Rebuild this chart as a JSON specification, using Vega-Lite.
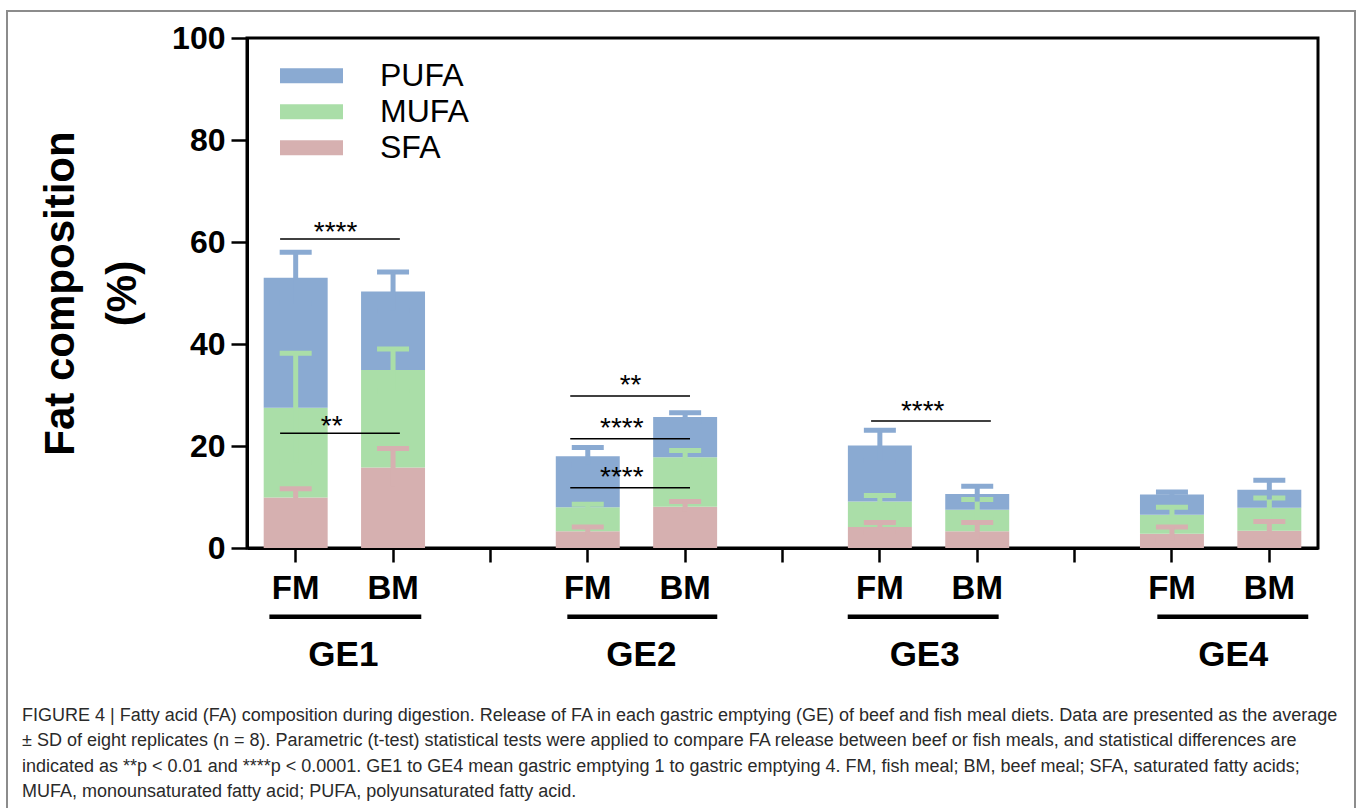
{
  "$schema": "https://vega.github.io/schema/vega-lite/v6.json",
  "autosize": "none",
  "width": 1071,
  "height": 510,
  "padding": {"left": 247, "top": 38, "right": 39, "bottom": 260},
  "background": "white",
  "datasets": {
    "fa": [
      {"slot": "GE1 FM", "type": "SFA", "order": 1, "pct": 9.9, "sd": 1.7},
      {"slot": "GE1 FM", "type": "MUFA", "order": 2, "pct": 17.6, "sd": 10.7},
      {"slot": "GE1 FM", "type": "PUFA", "order": 3, "pct": 25.5, "sd": 5.0},
      {"slot": "GE1 BM", "type": "SFA", "order": 1, "pct": 15.8, "sd": 3.7},
      {"slot": "GE1 BM", "type": "MUFA", "order": 2, "pct": 19.1, "sd": 4.1},
      {"slot": "GE1 BM", "type": "PUFA", "order": 3, "pct": 15.4, "sd": 3.8},
      {"slot": "GE2 FM", "type": "SFA", "order": 1, "pct": 3.3, "sd": 0.8},
      {"slot": "GE2 FM", "type": "MUFA", "order": 2, "pct": 4.7, "sd": 0.6},
      {"slot": "GE2 FM", "type": "PUFA", "order": 3, "pct": 10.0, "sd": 1.7},
      {"slot": "GE2 BM", "type": "SFA", "order": 1, "pct": 8.1, "sd": 1.0},
      {"slot": "GE2 BM", "type": "MUFA", "order": 2, "pct": 9.7, "sd": 1.3},
      {"slot": "GE2 BM", "type": "PUFA", "order": 3, "pct": 7.9, "sd": 0.8},
      {"slot": "GE3 FM", "type": "SFA", "order": 1, "pct": 4.1, "sd": 0.9},
      {"slot": "GE3 FM", "type": "MUFA", "order": 2, "pct": 5.0, "sd": 1.2},
      {"slot": "GE3 FM", "type": "PUFA", "order": 3, "pct": 11.0, "sd": 3.0},
      {"slot": "GE3 BM", "type": "SFA", "order": 1, "pct": 3.3, "sd": 1.7},
      {"slot": "GE3 BM", "type": "MUFA", "order": 2, "pct": 4.2, "sd": 2.0},
      {"slot": "GE3 BM", "type": "PUFA", "order": 3, "pct": 3.1, "sd": 1.5},
      {"slot": "GE4 FM", "type": "SFA", "order": 1, "pct": 2.8, "sd": 1.3},
      {"slot": "GE4 FM", "type": "MUFA", "order": 2, "pct": 3.7, "sd": 1.5},
      {"slot": "GE4 FM", "type": "PUFA", "order": 3, "pct": 4.0, "sd": 0.5},
      {"slot": "GE4 BM", "type": "SFA", "order": 1, "pct": 3.4, "sd": 1.8},
      {"slot": "GE4 BM", "type": "MUFA", "order": 2, "pct": 4.5, "sd": 1.9},
      {"slot": "GE4 BM", "type": "PUFA", "order": 3, "pct": 3.5, "sd": 1.9}
    ],
    "sig": [
      {"label": "****", "y": 60.6, "x1": 0.34, "x2": 1.57, "sx": 0.91, "sy": 60.2},
      {"label": "**", "y": 22.5, "x1": 0.34, "x2": 1.57, "sx": 0.87, "sy": 22.2},
      {"label": "**", "y": 29.8, "x1": 3.32, "x2": 4.55, "sx": 3.94, "sy": 30.1},
      {"label": "****", "y": 21.4, "x1": 3.32, "x2": 4.55, "sx": 3.85, "sy": 21.7},
      {"label": "****", "y": 11.8, "x1": 3.32, "x2": 4.55, "sx": 3.85, "sy": 12.1},
      {"label": "****", "y": 24.9, "x1": 6.41, "x2": 7.64, "sx": 6.94, "sy": 25.1}
    ],
    "groups": [
      {"ge": "GE1", "x1": 0.23, "x2": 1.79, "cx": 0.99},
      {"ge": "GE2", "x1": 3.29, "x2": 4.83, "cx": 4.05},
      {"ge": "GE3", "x1": 6.17, "x2": 7.72, "cx": 6.96},
      {"ge": "GE4", "x1": 9.35, "x2": 10.9, "cx": 10.13}
    ]
  },
  "config": {
    "font": "Liberation Sans",
    "view": {"stroke": "#000", "strokeWidth": 3},
    "axis": {
      "domainColor": "#000", "domainWidth": 3, "tickColor": "#000", "tickWidth": 2.5,
      "labelColor": "#000", "titleColor": "#000", "grid": false,
      "labelFont": "Liberation Sans", "titleFont": "Liberation Sans"
    }
  },
  "layer": [
    {
      "data": {"name": "fa"},
      "mark": {"type": "bar", "opacity": 1},
      "encoding": {
        "x": {
          "field": "slot", "type": "nominal", "sort": null,
          "scale": {
            "domain": ["GE1 FM", "GE1 BM", " 1", "GE2 FM", "GE2 BM", " 2", "GE3 FM", "GE3 BM", " 3", "GE4 FM", "GE4 BM"],
            "paddingInner": 0.343, "paddingOuter": 0.1715
          },
          "axis": {
            "title": null, "labelExpr": "slice(datum.value, 4)", "labelAngle": 0,
            "labelFontSize": 33, "labelFontWeight": "bold", "tickSize": 14, "labelPadding": 10
          }
        },
        "y": {
          "field": "pct", "type": "quantitative", "stack": "zero",
          "title": ["Fat composition", "(%)"],
          "scale": {"domain": [0, 100], "nice": false},
          "axis": {
            "values": [0, 20, 40, 60, 80, 100],
            "titleFontSize": 42, "titleFontWeight": "bold", "titleLineHeight": 62, "titlePadding": 27,
            "labelFontSize": 32, "labelFontWeight": "bold", "tickSize": 16, "labelPadding": 6
          }
        },
        "color": {
          "field": "type", "type": "nominal",
          "scale": {"domain": ["PUFA", "MUFA", "SFA"], "range": ["#8aaad2", "#aadea8", "#d6b0b0"]},
          "legend": {
            "title": null, "orient": "none", "legendX": 33, "legendY": 21,
            "symbolType": "M-1,-0.24H1V0.24H-1Z", "symbolSize": 3969, "symbolStrokeWidth": 0, "symbolOpacity": 1,
            "labelFontSize": 32, "labelColor": "#000", "labelOffset": 37, "clipHeight": 33.5, "rowPadding": 2, "padding": 0
          }
        },
        "order": {"field": "order", "type": "quantitative"}
      }
    },
    {
      "data": {"name": "fa"},
      "transform": [
        {"stack": "pct", "groupby": ["slot"], "sort": [{"field": "order", "order": "ascending"}], "as": ["lo", "hi"]}
      ],
      "mark": {"type": "errorbar", "size": 32, "thickness": 5, "opacity": 1, "ticks": {"opacity": 1}, "rule": {"opacity": 1}},
      "encoding": {
        "x": {
          "field": "slot", "type": "nominal", "sort": null,
          "scale": {
            "domain": ["GE1 FM", "GE1 BM", " 1", "GE2 FM", "GE2 BM", " 2", "GE3 FM", "GE3 BM", " 3", "GE4 FM", "GE4 BM"],
            "paddingInner": 0.343, "paddingOuter": 0.1715
          },
          "axis": null
        },
        "y": {"field": "hi", "type": "quantitative", "title": ["Fat composition", "(%)"], "scale": {"domain": [0, 100], "nice": false}},
        "yError": {"field": "sd"},
        "color": {"field": "type", "type": "nominal"}
      }
    },
    {
      "data": {"name": "sig"},
      "mark": {"type": "rule", "color": "#000", "strokeWidth": 1.5},
      "encoding": {
        "x": {"field": "x1", "type": "quantitative", "scale": {"domain": [0, 11], "nice": false, "zero": false}, "axis": null},
        "x2": {"field": "x2"},
        "y": {"field": "y", "type": "quantitative"}
      }
    },
    {
      "data": {"name": "sig"},
      "mark": {"type": "text", "fontSize": 28, "baseline": "alphabetic", "align": "center", "color": "#000"},
      "encoding": {
        "x": {"field": "sx", "type": "quantitative", "scale": {"domain": [0, 11], "nice": false, "zero": false}, "axis": null},
        "y": {"field": "sy", "type": "quantitative"},
        "text": {"field": "label"}
      }
    },
    {
      "data": {"name": "groups"},
      "mark": {"type": "rule", "color": "#000", "strokeWidth": 4.5},
      "encoding": {
        "x": {"field": "x1", "type": "quantitative", "scale": {"domain": [0, 11], "nice": false, "zero": false}, "axis": null},
        "x2": {"field": "x2"},
        "y": {"datum": -13.5, "type": "quantitative"}
      }
    },
    {
      "data": {"name": "groups"},
      "mark": {"type": "text", "fontSize": 35, "fontWeight": "bold", "baseline": "alphabetic", "align": "center", "color": "#000"},
      "encoding": {
        "x": {"field": "cx", "type": "quantitative", "scale": {"domain": [0, 11], "nice": false, "zero": false}, "axis": null},
        "y": {"datum": -23.1, "type": "quantitative"},
        "text": {"field": "ge"}
      }
    },
    {
      "data": {"values": [{}]},
      "mark": {"type": "rect", "fill": "white", "fillOpacity": 0, "stroke": "#8c8c8c", "strokeWidth": 2},
      "encoding": {
        "x": {"datum": -2.465, "type": "quantitative", "scale": {"domain": [0, 11], "nice": false, "zero": false}, "axis": null},
        "x2": {"datum": 11.38},
        "y": {"datum": 105.3, "type": "quantitative"},
        "y2": {"datum": -51.6}
      }
    }
  ],
  "resolve": {"scale": {"x": "independent"}},
  "title": {
    "text": [
      "FIGURE 4 | Fatty acid (FA) composition during digestion. Release of FA in each gastric emptying (GE) of beef and fish meal diets. Data are presented as the average",
      "± SD of eight replicates (n = 8). Parametric (t-test) statistical tests were applied to compare FA release between beef or fish meals, and statistical differences are",
      "indicated as **p < 0.01 and ****p < 0.0001. GE1 to GE4 mean gastric emptying 1 to gastric emptying 4. FM, fish meal; BM, beef meal; SFA, saturated fatty acids;",
      "MUFA, monounsaturated fatty acid; PUFA, polyunsaturated fatty acid."
    ],
    "orient": "bottom", "anchor": "start", "frame": "bounds",
    "font": "Liberation Sans", "fontSize": 18, "fontWeight": "normal", "color": "#2a2a2a",
    "lineHeight": 25.3, "offset": 0, "dx": 16, "dy": -105
  }
}
